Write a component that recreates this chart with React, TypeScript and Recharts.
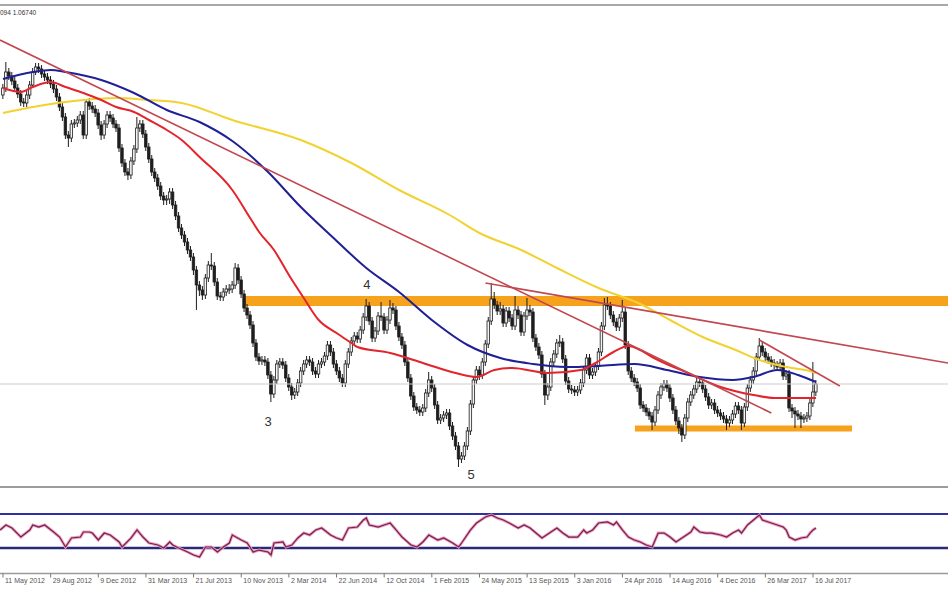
import React from 'react';
import { ComposedChart, Bar, Line, XAxis, YAxis, ReferenceLine, ReferenceArea, ReferenceDot } from 'recharts';

// Weekly candles, index 0 = week of 11 May 2012
const weeklyOpens = [
  1.3564,1.3634,1.3794,1.3754,1.3704,1.3634,1.3574,1.3494,1.3484,1.3564,
  1.3664,1.3794,1.3844,1.3824,1.3774,1.3744,1.3714,1.3674,1.3624,1.3544,
  1.3444,1.3344,1.3164,1.3134,1.3274,1.3284,1.3314,1.3364,1.3164,1.3494,
  1.3454,1.3424,1.3384,1.3264,1.3164,1.3274,1.3364,1.3334,1.3274,1.3234,
  1.3034,1.2884,1.2794,1.2764,1.2904,1.3024,1.3234,1.3274,1.3174,1.3044,
  1.2924,1.2794,1.2734,1.2654,1.2554,1.2514,1.2524,1.2594,1.2464,1.2354,
  1.2234,1.2164,1.2094,1.2014,1.1944,1.1814,1.1664,1.1614,1.1564,1.1734,
  1.1864,1.1854,1.1694,1.1554,1.1544,1.1594,1.1624,1.1624,1.1664,1.1834,
  1.1714,1.1574,1.1434,1.1364,1.1264,1.1084,1.0944,1.0904,1.0914,1.0894,
  1.0764,1.0574,1.0714,1.0874,1.0894,1.0864,1.0734,1.0644,1.0564,1.0594,
  1.0684,1.0804,1.0874,1.0914,1.0894,1.0804,1.0774,1.0874,1.0894,1.0954,
  1.1064,1.0994,1.0874,1.0804,1.0734,1.0684,1.0874,1.0994,1.1104,1.1154,
  1.1124,1.1214,1.1344,1.1454,1.1304,1.1134,1.1204,1.1354,1.1344,1.1214,
  1.1314,1.1434,1.1414,1.1254,1.1144,1.1064,1.0894,1.0734,1.0554,1.0444,
  1.0414,1.0394,1.0434,1.0584,1.0714,1.0634,1.0464,1.0314,1.0334,1.0364,
  1.0384,1.0254,1.0154,1.0054,0.9924,0.9954,1.0054,1.0204,1.0474,1.0714,
  1.0814,1.0764,1.0894,1.1074,1.1304,1.1524,1.1464,1.1404,1.1424,1.1284,
  1.1404,1.1334,1.1254,1.1414,1.1364,1.1194,1.1354,1.1414,1.1394,1.1134,
  1.1044,1.0964,1.0774,1.0564,1.0644,1.0894,1.0974,1.1084,1.1094,1.0924,
  1.0704,1.0624,1.0614,1.0594,1.0614,1.0684,1.0814,1.0934,1.0764,1.0794,
  1.0854,1.0994,1.1254,1.1464,1.1454,1.1364,1.1294,1.1244,1.1334,1.1394,
  1.1064,1.0804,1.0734,1.0694,1.0634,1.0464,1.0434,1.0394,1.0354,1.0294,
  1.0414,1.0564,1.0644,1.0674,1.0634,1.0534,1.0414,1.0304,1.0234,1.0164,
  1.0334,1.0494,1.0564,1.0624,1.0694,1.0684,1.0624,1.0544,1.0464,1.0484,
  1.0414,1.0384,1.0354,1.0324,1.0284,1.0314,1.0374,1.0454,1.0414,1.0284,
  1.0444,1.0634,1.0714,1.0804,1.0944,1.1054,1.0994,1.0944,1.0914,1.0884,
  1.0864,1.0844,1.0884,1.0754,1.0774,1.0434,1.0404,1.0374,1.0354,1.0324,
  1.0334,1.0354,1.0484,1.0594,
];

const weeklyHighs = [
  1.3674,1.3894,1.3834,1.3794,1.3744,1.3674,1.3614,1.3534,1.3604,1.3704,
  1.3834,1.3884,1.3884,1.3864,1.3814,1.3784,1.3754,1.3714,1.3664,1.3584,
  1.3484,1.3384,1.3204,1.3314,1.3324,1.3354,1.3404,1.3404,1.3514,1.3534,
  1.3494,1.3464,1.3424,1.3304,1.3314,1.3404,1.3404,1.3374,1.3314,1.3274,
  1.3074,1.2924,1.2834,1.2944,1.3064,1.3344,1.3314,1.3314,1.3214,1.3084,
  1.2964,1.2834,1.2774,1.2694,1.2594,1.2564,1.2634,1.2634,1.2504,1.2394,
  1.2274,1.2204,1.2134,1.2054,1.1984,1.1854,1.1704,1.1654,1.1774,1.1904,
  1.1984,1.1894,1.1734,1.1594,1.1634,1.1664,1.1674,1.1704,1.1884,1.1874,
  1.1754,1.1614,1.1474,1.1404,1.1304,1.1124,1.0984,1.0954,1.0954,1.0934,
  1.0804,1.0754,1.0914,1.0934,1.0934,1.0904,1.0774,1.0684,1.0634,1.0724,
  1.0844,1.0914,1.0954,1.0954,1.0934,1.0844,1.0914,1.0934,1.0994,1.1104,
  1.1104,1.1034,1.0914,1.0844,1.0774,1.0914,1.1034,1.1144,1.1194,1.1194,
  1.1254,1.1384,1.1524,1.1494,1.1344,1.1244,1.1394,1.1494,1.1384,1.1354,
  1.1514,1.1484,1.1454,1.1294,1.1184,1.1104,1.0934,1.0774,1.0594,1.0484,
  1.0454,1.0474,1.0624,1.0794,1.0754,1.0674,1.0504,1.0374,1.0404,1.0424,
  1.0424,1.0294,1.0194,1.0094,0.9994,1.0094,1.0244,1.0514,1.0754,1.0854,
  1.0854,1.0934,1.1114,1.1344,1.1684,1.1594,1.1504,1.1494,1.1464,1.1444,
  1.1444,1.1374,1.1554,1.1454,1.1404,1.1394,1.1534,1.1464,1.1434,1.1174,
  1.1084,1.1004,1.0814,1.0684,1.0934,1.1014,1.1124,1.1164,1.1134,1.0964,
  1.0744,1.0664,1.0654,1.0654,1.0724,1.0854,1.0974,1.0974,1.0834,1.0894,
  1.1034,1.1294,1.1534,1.1544,1.1494,1.1404,1.1334,1.1374,1.1514,1.1434,
  1.1104,1.0844,1.0774,1.0734,1.0674,1.0504,1.0474,1.0434,1.0394,1.0454,
  1.0604,1.0684,1.0714,1.0714,1.0674,1.0574,1.0454,1.0344,1.0274,1.0374,
  1.0534,1.0604,1.0664,1.0734,1.0744,1.0724,1.0664,1.0584,1.0524,1.0524,
  1.0454,1.0424,1.0394,1.0364,1.0354,1.0414,1.0494,1.0494,1.0454,1.0484,
  1.0674,1.0754,1.0844,1.0984,1.1134,1.1094,1.1034,1.0984,1.0954,1.0924,
  1.0904,1.0924,1.0924,1.0814,1.0814,1.0474,1.0444,1.0414,1.0394,1.0374,
  1.0394,1.0524,1.0894,1.0714,
];

const weeklyLows = [
  1.3524,1.3594,1.3714,1.3664,1.3594,1.3534,1.3454,1.3444,1.3444,1.3524,
  1.3634,1.3764,1.3784,1.3734,1.3704,1.3674,1.3634,1.3584,1.3504,1.3404,
  1.3304,1.3124,1.3044,1.3094,1.3234,1.3244,1.3274,1.3124,1.3124,1.3414,
  1.3384,1.3344,1.3224,1.3114,1.3124,1.3234,1.3294,1.3234,1.3194,1.2994,
  1.2844,1.2754,1.2714,1.2724,1.2864,1.2984,1.3194,1.3134,1.3004,1.2884,
  1.2754,1.2694,1.2614,1.2514,1.2464,1.2464,1.2474,1.2424,1.2314,1.2194,
  1.2124,1.2054,1.1974,1.1904,1.1764,1.1414,1.1554,1.1514,1.1524,1.1694,
  1.1814,1.1654,1.1514,1.1504,1.1504,1.1554,1.1574,1.1584,1.1624,1.1674,
  1.1534,1.1394,1.1324,1.1224,1.1044,1.0904,1.0864,1.0864,1.0854,1.0724,
  1.0494,1.0534,1.0674,1.0834,1.0824,1.0694,1.0604,1.0514,1.0524,1.0554,
  1.0644,1.0764,1.0834,1.0854,1.0764,1.0734,1.0734,1.0834,1.0854,1.0914,
  1.0954,1.0834,1.0764,1.0694,1.0644,1.0644,1.0834,1.0954,1.1064,1.1084,
  1.1084,1.1174,1.1304,1.1264,1.1094,1.1094,1.1164,1.1304,1.1174,1.1174,
  1.1274,1.1374,1.1214,1.1104,1.1024,1.0854,1.0694,1.0514,1.0404,1.0374,
  1.0354,1.0354,1.0394,1.0544,1.0594,1.0424,1.0274,1.0274,1.0294,1.0324,
  1.0214,1.0114,1.0014,0.9844,0.9884,0.9914,1.0014,1.0164,1.0434,1.0674,
  1.0714,1.0724,1.0854,1.1034,1.1264,1.1424,1.1364,1.1364,1.1244,1.1244,
  1.1294,1.1214,1.1214,1.1324,1.1154,1.1154,1.1314,1.1354,1.1094,1.1004,
  1.0924,1.0734,1.0464,1.0514,1.0604,1.0854,1.0934,1.1044,1.0884,1.0664,
  1.0584,1.0574,1.0554,1.0554,1.0574,1.0644,1.0774,1.0724,1.0724,1.0754,
  1.0814,1.0954,1.1214,1.1414,1.1324,1.1254,1.1204,1.1204,1.1294,1.1024,
  1.0764,1.0694,1.0654,1.0594,1.0424,1.0394,1.0354,1.0314,1.0214,1.0254,
  1.0374,1.0524,1.0604,1.0594,1.0494,1.0374,1.0264,1.0174,1.0094,1.0124,
  1.0294,1.0454,1.0524,1.0584,1.0644,1.0584,1.0504,1.0424,1.0424,1.0374,
  1.0344,1.0314,1.0284,1.0214,1.0244,1.0274,1.0334,1.0374,1.0214,1.0244,
  1.0404,1.0594,1.0674,1.0764,1.0904,1.0954,1.0904,1.0874,1.0844,1.0824,
  1.0804,1.0804,1.0714,1.0714,1.0394,1.0334,1.0234,1.0314,1.0234,1.0284,
  1.0294,1.0314,1.0444,1.0554,
];

const weeklyCloses = [
  1.3634,1.3794,1.3754,1.3704,1.3634,1.3574,1.3494,1.3484,1.3564,1.3664,
  1.3794,1.3844,1.3824,1.3774,1.3744,1.3714,1.3674,1.3624,1.3544,1.3444,
  1.3344,1.3164,1.3134,1.3274,1.3284,1.3314,1.3364,1.3164,1.3494,1.3454,
  1.3424,1.3384,1.3264,1.3164,1.3274,1.3364,1.3334,1.3274,1.3234,1.3034,
  1.2884,1.2794,1.2764,1.2904,1.3024,1.3234,1.3274,1.3174,1.3044,1.2924,
  1.2794,1.2734,1.2654,1.2554,1.2514,1.2524,1.2594,1.2464,1.2354,1.2234,
  1.2164,1.2094,1.2014,1.1944,1.1814,1.1664,1.1614,1.1564,1.1734,1.1864,
  1.1854,1.1694,1.1554,1.1544,1.1594,1.1624,1.1624,1.1664,1.1834,1.1714,
  1.1574,1.1434,1.1364,1.1264,1.1084,1.0944,1.0904,1.0914,1.0894,1.0764,
  1.0574,1.0714,1.0874,1.0894,1.0864,1.0734,1.0644,1.0564,1.0594,1.0684,
  1.0804,1.0874,1.0914,1.0894,1.0804,1.0774,1.0874,1.0894,1.0954,1.1064,
  1.0994,1.0874,1.0804,1.0734,1.0684,1.0874,1.0994,1.1104,1.1154,1.1124,
  1.1214,1.1344,1.1454,1.1304,1.1134,1.1204,1.1354,1.1344,1.1214,1.1314,
  1.1434,1.1414,1.1254,1.1144,1.1064,1.0894,1.0734,1.0554,1.0444,1.0414,
  1.0394,1.0434,1.0584,1.0714,1.0634,1.0464,1.0314,1.0334,1.0364,1.0384,
  1.0254,1.0154,1.0054,0.9924,0.9954,1.0054,1.0204,1.0474,1.0714,1.0814,
  1.0764,1.0894,1.1074,1.1304,1.1524,1.1464,1.1404,1.1424,1.1284,1.1404,
  1.1334,1.1254,1.1414,1.1364,1.1194,1.1354,1.1414,1.1394,1.1134,1.1044,
  1.0964,1.0774,1.0564,1.0644,1.0894,1.0974,1.1084,1.1094,1.0924,1.0704,
  1.0624,1.0614,1.0594,1.0614,1.0684,1.0814,1.0934,1.0764,1.0794,1.0854,
  1.0994,1.1254,1.1464,1.1454,1.1364,1.1294,1.1244,1.1334,1.1394,1.1064,
  1.0804,1.0734,1.0694,1.0634,1.0464,1.0434,1.0394,1.0354,1.0294,1.0414,
  1.0564,1.0644,1.0674,1.0634,1.0534,1.0414,1.0304,1.0234,1.0164,1.0334,
  1.0494,1.0564,1.0624,1.0694,1.0684,1.0624,1.0544,1.0464,1.0484,1.0414,
  1.0384,1.0354,1.0324,1.0284,1.0314,1.0374,1.0454,1.0414,1.0284,1.0444,
  1.0634,1.0714,1.0804,1.0944,1.1054,1.0994,1.0944,1.0914,1.0884,1.0864,
  1.0844,1.0884,1.0754,1.0774,1.0434,1.0404,1.0374,1.0354,1.0324,1.0334,
  1.0354,1.0484,1.0594,1.0674,
];

// Moving averages (week index -> value)
const maRedWeeks = [0,6,10,16,21,27,33,38,44,49,55,60,66,77,83,86,91,96,101,106,112,117,119,130,141,152,159,165,171,183,194,199,205,210,214,218,230,241,252,259,265,273];
const maRedValues = [1.3634,1.3594,1.3644,1.3694,1.3644,1.3584,1.3514,1.3444,1.3394,1.3314,1.3214,1.3114,1.2944,1.2614,1.2334,1.2194,1.2014,1.1764,1.1534,1.1314,1.1184,1.1084,1.1044,1.0984,1.0884,1.0784,1.0744,1.0814,1.0834,1.0784,1.0814,1.0884,1.0994,1.1054,1.1014,1.0944,1.0784,1.0644,1.0564,1.0534,1.0534,1.0534];

const maBlueWeeks = [0,10,16,21,33,44,55,66,77,89,100,111,122,133,144,156,167,178,189,200,212,223,234,245,252,260,267,273];
const maBlueValues = [1.3724,1.3794,1.3814,1.3794,1.3714,1.3584,1.3414,1.3294,1.3104,1.2794,1.2444,1.2134,1.1834,1.1594,1.1314,1.1064,1.0934,1.0874,1.0844,1.0854,1.0874,1.0814,1.0744,1.0714,1.0744,1.0814,1.0764,1.0694];

const maYellowWeeks = [0,10,27,38,49,60,77,100,117,133,150,160,174,186,200,214,224,235,246,254,263,272,273];
const maYellowValues = [1.3384,1.3444,1.3514,1.3534,1.3514,1.3484,1.3314,1.3114,1.2884,1.2614,1.2364,1.2184,1.2014,1.1834,1.1634,1.1474,1.1314,1.1144,1.1014,1.0914,1.0844,1.0794,1.0784];

// RSI
const rsiWeeks = [-1,1,3,6,9,10,12,14,17,19,21,23,26,27,29,30,32,34,36,39,40,43,45,47,49,52,54,56,57,59,62,64,66,68,70,72,74,76,77,80,82,84,86,89,90,91,94,95,97,99,101,103,105,107,110,112,114,116,119,121,122,123,126,128,130,132,134,137,139,141,143,146,148,151,153,154,157,159,162,164,166,168,170,173,175,177,179,181,184,186,188,190,193,195,196,198,200,203,205,206,208,210,212,214,216,218,220,222,224,226,228,231,232,234,236,238,241,243,245,247,248,250,252,254,255,258,260,262,263,264,266,268,270,271,272,273];
const rsiValues = [51.2,57.1,53.5,42.9,51.2,57.1,54.7,57.1,48.8,42.9,31.2,41.8,42.9,48.8,48.8,47.6,39.4,47.6,45.3,37.1,31.2,41.8,51.2,42.9,35.9,33.5,30,37.1,33.5,30,25.3,21.8,19.4,31.2,31.2,25.3,31.2,35.9,45.3,39.4,35.9,25.3,27.6,25.3,21.8,35.9,37.1,31.2,33.5,41.8,47.6,45.3,51.2,53.5,45.3,41.8,39.4,53.5,54.7,62.9,65.3,57.1,54.7,57.1,59.4,51.2,42.9,33.5,31.2,37.1,45.3,39.4,41.8,35.9,31.2,35.9,51.2,59.4,66.5,68.8,65.3,62.9,59.4,53.5,57.1,53.5,47.6,41.8,48.8,53.5,47.6,42.9,42.9,51.2,47.6,51.2,59.4,60.6,57.1,60.6,51.2,42.9,39.4,37.1,33.5,31.2,47.6,47.6,42.9,37.1,41.8,48.8,54.7,48.8,47.6,47.6,45.3,42.9,47.6,51.2,47.6,57.1,62.9,68.8,62.9,59.4,57.1,54.7,51.2,42.9,39.4,41.8,42.9,47.6,51.2,53.5];
const rsiLevels = [70, 30];

// Axis tick labels
const tickWeeks = [0,16,32,48,64,80,96,112,128,144,160,176,192,208,224,240,256,272];
const tickLabels = ['11 May 2012','29 Aug 2012','9 Dec 2012','31 Mar 2013','21 Jul 2013','10 Nov 2013','2 Mar 2014','22 Jun 2014','12 Oct 2014','1 Feb 2015','24 May 2015','13 Sep 2015','3 Jan 2016','24 Apr 2016','14 Aug 2016','4 Dec 2016','26 Mar 2017','16 Jul 2017'];

// Annotations
const lastPrice = 1.0674;
const resistanceZone = { from: 80.6, to: 317.33, low: 1.1454, high: 1.1554 };
const supportZone = { from: 212.2, to: 285.1, low: 1.0199, high: 1.0259 };
const trendLines = [
  [{ x: -1.0074, y: 1.4114 }, { x: 258, y: 1.0384 }],
  [{ x: 162, y: 1.1684 }, { x: 317.33, y: 1.0884 }],
  [{ x: 254, y: 1.1114 }, { x: 281, y: 1.0654 }],
];
const waveLabels = [
  { week: 89, price: 1.0304, text: '3' },
  { week: 122.2, price: 1.1674, text: '4' },
  { week: 157.2, price: 0.9774, text: '5' },
];

const X_DOMAIN: [number, number] = [-1.0074, 317.33];
const FONT = 'Liberation Sans, Arial, sans-serif';

const rows: any[] = weeklyCloses.map((c, i) => ({ i, o: weeklyOpens[i], h: weeklyHighs[i], l: weeklyLows[i], c }));
maRedWeeks.forEach((w, k) => { rows[w].maRed = maRedValues[k]; });
maBlueWeeks.forEach((w, k) => { rows[w].maBlue = maBlueValues[k]; });
maYellowWeeks.forEach((w, k) => { rows[w].maYellow = maYellowValues[k]; });

const rsiRows = rsiWeeks.map((w, k) => ({ i: w, rsi: rsiValues[k] }));

const Candle = (props: any) => {
  const { x, y, width, height, payload } = props;
  if (x == null || y == null || !payload) return null;
  const top = Math.min(y, y + height);
  const span = Math.abs(height);
  const { o, h, l, c } = payload;
  const ratio = span / Math.max(h - l, 1e-9);
  const cx = x + width / 2;
  const bTop = top + (h - Math.max(o, c)) * ratio;
  const bBot = top + (h - Math.min(o, c)) * ratio;
  const up = c >= o;
  return (
    <g>
      <line x1={cx} x2={cx} y1={top} y2={top + span} stroke="#1e1e1e" strokeWidth={1} />
      <rect x={cx - 1.25} y={bTop} width={2.5} height={Math.max(bBot - bTop, 1)} fill={up ? '#f4f4f4' : '#1e1e1e'} stroke="#1e1e1e" strokeWidth={0.8} />
    </g>
  );
};

const DateTick = (props: any) => {
  const { x, y, payload } = props;
  const k = tickWeeks.indexOf(payload.value);
  return (
    <g>
      <line x1={x} x2={x} y1={y} y2={y + 4} stroke="#777" strokeWidth={1} />
      <text x={x + 2} y={y + 9} fontSize={7} fill="#555" fontFamily={FONT}>{tickLabels[k]}</text>
    </g>
  );
};

const WaveLabel = (text: string) => (p: any) => (
  <text x={p.cx} y={p.cy} textAnchor="middle" dominantBaseline="central" fontSize={13} fill="#333" fontFamily={FONT}>{text}</text>
);

export default function App() {
  return (
    <div style={{ position: 'absolute', left: 0, top: 0, width: 948, height: 593, background: '#fff', overflow: 'hidden' }}>
      <div style={{ position: 'absolute', left: 0, top: 4, width: 948, height: 2, background: '#a8a8a8' }} />
      <div style={{ position: 'absolute', left: 0, top: 9, fontSize: 6.5, lineHeight: '7px', color: '#333', fontFamily: FONT }}>094 1.06740</div>
      <div style={{ position: 'absolute', left: 0, top: 0 }}>
        <ComposedChart width={948} height={488} data={rows} margin={{ top: 6, right: 0, bottom: 1, left: 0 }}>
          <XAxis dataKey="i" type="number" domain={X_DOMAIN} hide allowDataOverflow />
          <YAxis type="number" domain={[0.9644, 1.4454]} hide allowDataOverflow />
          <ReferenceLine y={lastPrice} stroke="#cdcdcd" strokeWidth={1} />
          <ReferenceArea x1={resistanceZone.from} x2={resistanceZone.to} y1={resistanceZone.low} y2={resistanceZone.high} fill="#f7a21c" fillOpacity={1} stroke="none" ifOverflow="hidden" />
          <ReferenceArea x1={supportZone.from} x2={supportZone.to} y1={supportZone.low} y2={supportZone.high} fill="#f7a21c" fillOpacity={1} stroke="none" ifOverflow="hidden" />
          <Bar dataKey={(d: any) => [d.l, d.h]} shape={Candle} barSize={3} isAnimationActive={false} />
          <Line dataKey="maYellow" type="monotone" stroke="#f2d230" strokeWidth={2} dot={false} connectNulls isAnimationActive={false} />
          <Line dataKey="maBlue" type="monotone" stroke="#1f1f96" strokeWidth={2} dot={false} connectNulls isAnimationActive={false} />
          <Line dataKey="maRed" type="monotone" stroke="#e3242b" strokeWidth={2} dot={false} connectNulls isAnimationActive={false} />
          {trendLines.map((seg, k) => (
            <ReferenceLine key={k} segment={seg} stroke="#c2474f" strokeWidth={1.6} ifOverflow="hidden" />
          ))}
          {waveLabels.map((w) => (
            <ReferenceDot key={w.text} x={w.week} y={w.price} r={0} shape={WaveLabel(w.text)} ifOverflow="visible" />
          ))}
        </ComposedChart>
      </div>
      <div style={{ position: 'absolute', left: 0, top: 486, width: 948, height: 2, background: '#9c9c9c' }} />
      <div style={{ position: 'absolute', left: 0, top: 480 }}>
        <ComposedChart width={948} height={109} data={rsiRows} margin={{ top: 8.5, right: 0, bottom: 0.5, left: 0 }}>
          <XAxis dataKey="i" type="number" domain={X_DOMAIN} allowDataOverflow ticks={tickWeeks} interval={0}
            tick={<DateTick />} tickLine={false} tickSize={0} tickMargin={0} height={15}
            axisLine={{ stroke: '#9a9a9a', strokeWidth: 1.5 }} />
          <YAxis type="number" domain={[0, 100]} hide allowDataOverflow />
          <ReferenceLine y={rsiLevels[0]} stroke="#3030a2" strokeWidth={2} />
          <ReferenceLine y={rsiLevels[1]} stroke="#2a2a7c" strokeWidth={2.5} />
          <Line dataKey="rsi" type="linear" stroke="#f19cc4" strokeWidth={3} dot={false} isAnimationActive={false} />
          <Line dataKey="rsi" type="linear" stroke="#6e2446" strokeWidth={1.2} dot={false} isAnimationActive={false} />
        </ComposedChart>
      </div>
    </div>
  );
}
